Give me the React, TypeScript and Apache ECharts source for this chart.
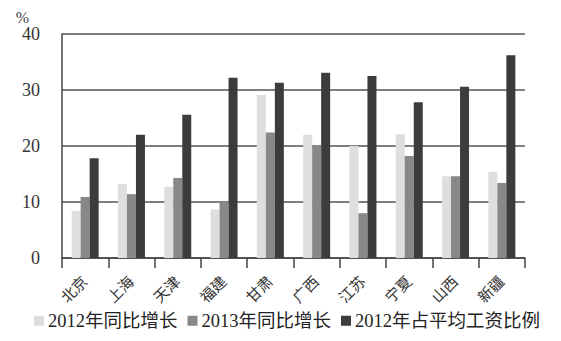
import React, { useEffect, useRef } from "react";
import * as echarts from "echarts";

const categories = ["北京", "上海", "天津", "福建", "甘肃", "广西", "江苏", "宁夏", "山西", "新疆"];
const growth2012 = [8.4, 13.2, 12.7, 8.7, 29.1, 22.0, 20.0, 22.1, 14.6, 15.4];
const growth2013 = [10.9, 11.4, 14.3, 10.1, 22.4, 20.2, 8.0, 18.2, 14.6, 13.4];
const ratio2012 = [17.8, 22.0, 25.6, 32.2, 31.3, 33.1, 32.5, 27.8, 30.6, 36.2];
const seriesNames = ["2012年同比增长", "2013年同比增长", "2012年占平均工资比例"];
const yTicks = [0, 10, 20, 30, 40];

const serif = "'Liberation Serif', 'DejaVu Serif', 'Noto Sans CJK SC', serif";

export default function App() {
  const ref = useRef<HTMLDivElement>(null);
  useEffect(() => {
    if (!ref.current) return;
    const chart = echarts.init(ref.current, null, { renderer: "svg" });
    const colors = ["#dedede", "#888888", "#3c3c3c"];
    const data = [growth2012, growth2013, ratio2012];
    chart.setOption({
      animation: false,
      backgroundColor: "#ffffff",
      grid: { left: 62, right: 36, top: 34, bottom: 83 },
      legend: {
        left: 29,
        bottom: 6,
        icon: "rect",
        itemWidth: 10,
        itemHeight: 10,
        itemGap: 10,
        textStyle: { fontFamily: serif, fontSize: 18.5, color: "#222", padding: [0, 0, 0, -1] },
        data: seriesNames,
      },
      xAxis: {
        type: "category",
        data: categories,
        axisLine: { lineStyle: { color: "#444", width: 1.5 } },
        axisTick: { show: true, length: 10, lineStyle: { color: "#444", width: 1.5 } },
        axisLabel: {
          rotate: 45,
          interval: 0,
          margin: 21,
          fontFamily: serif,
          fontSize: 15,
          color: "#333",
        },
      },
      yAxis: {
        type: "value",
        min: yTicks[0],
        max: yTicks[yTicks.length - 1],
        interval: 10,
        name: "%",
        nameLocation: "end",
        nameGap: 8,
        nameTextStyle: { fontFamily: serif, fontSize: 16, color: "#444", align: "right", padding: [0, 33, 0, 0] },
        axisLine: { show: true, lineStyle: { color: "#444", width: 1.5 } },
        axisTick: { show: false },
        axisLabel: { fontFamily: serif, fontSize: 18, color: "#333", margin: 22 },
        splitLine: { lineStyle: { color: "#555", width: 1.5 } },
      },
      series: seriesNames.map((name, i) => ({
        name,
        type: "bar",
        data: data[i],
        barWidth: 9,
        barGap: "0%",
        itemStyle: { color: colors[i] },
      })),
    });
    return () => chart.dispose();
  }, []);
  return <div ref={ref} style={{ width: 561, height: 341, position: "absolute", left: 0, top: 0 }} />;
}
